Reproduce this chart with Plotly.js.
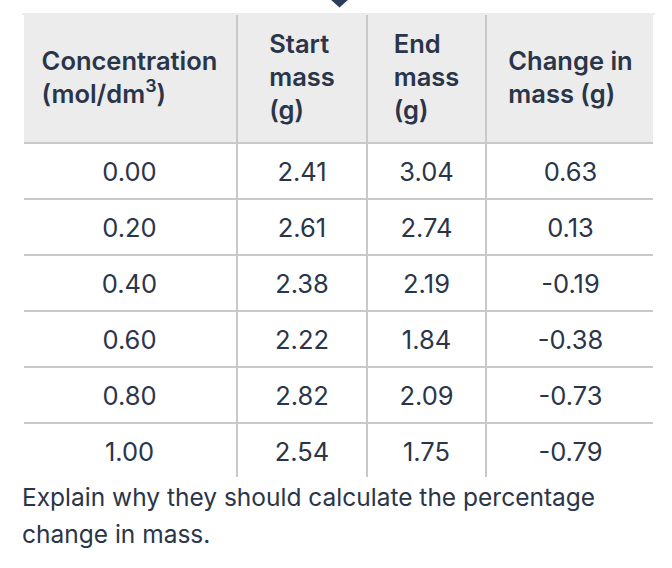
<!DOCTYPE html>
<html>
<head>
<meta charset="utf-8">
<script src="https://cdn.plot.ly/plotly-3.0.1.min.js"></script>
<style>
  html, body { margin: 0; padding: 0; background: #fff; }
  #chart { width: 672px; height: 568px; }
</style>
</head>
<body>
<div id="chart"></div>
<script>
// table data
const headers = ['Concentration<br>(mol/dm<sup>3</sup>)', 'Start<br>mass<br>(g)', 'End<br>mass<br>(g)', 'Change in<br>mass (g)'];
const concentration = ['0.00', '0.20', '0.40', '0.60', '0.80', '1.00'];
const startMass = ['2.41', '2.61', '2.38', '2.22', '2.82', '2.54'];
const endMass = ['3.04', '2.74', '2.19', '1.84', '2.09', '1.75'];
const changeMass = ['0.63', '0.13', '-0.19', '-0.38', '-0.73', '-0.79'];
const question = ['Explain why they should calculate the percentage', 'change in mass.'];

const ink = '#2b3549';
const grid = '#c9c9c9';
const font = 'Inter, "Noto Sans", sans-serif';
const colW = [215, 130, 119, 169];
const headerH = 129, rowH = 56;
const clear = 'rgba(0,0,0,0)';

const W = 633, H = 554;
const px = x => (x - 22) / W;
const py = y => 1 - (y - 14) / H;

const bold = h => h.split('<br>').map(s => '<span style="font-weight:600">' + s + '</span>').join('<br>');
const nLines = h => h.split('<br>').length;
const emptyCol = v => v.map(() => '');
const emptyCells = [emptyCol(concentration), emptyCol(startMass), emptyCol(endMass), emptyCol(changeMass)];

// grid + fills
const gridTable = {
  type: 'table',
  columnwidth: colW,
  domain: { x: [0, 1], y: [0, 1] },
  header: {
    values: headers.map(() => ''),
    height: headerH,
    fill: { color: '#ececec' },
    line: { color: grid, width: 2 }
  },
  cells: {
    values: emptyCells,
    height: rowH,
    fill: { color: '#ffffff' },
    line: { color: grid, width: 2 }
  }
};

// text layers: each one nudged down so the text sits in the middle of its cell
function textLayer(top, headerVals, cellVals) {
  return {
    type: 'table',
    columnwidth: colW,
    domain: { x: [0, 1], y: [0, py(top)] },
    header: {
      values: headerVals,
      align: 'center',
      height: headerH,
      fill: { color: clear },
      line: { width: 0 },
      font: { family: font, size: 25.5, color: ink }
    },
    cells: {
      values: cellVals,
      align: 'center',
      height: rowH,
      fill: { color: clear },
      line: { width: 0 },
      font: { family: font, size: 25.5, color: ink }
    }
  };
}

const cellText = textLayer(24.5, headers.map(() => ''), [concentration, startMass, endMass, changeMass]);
const header3 = textLayer(20, headers.map(h => nLines(h) === 3 ? bold(h) : ''), emptyCells);
const header2 = textLayer(37, headers.map(h => nLines(h) === 2 ? bold(h) : ''), emptyCells);

const layout = {
  width: 672,
  height: 568,
  margin: { t: 14, b: 0, l: 22, r: 17 },
  paper_bgcolor: '#ffffff',
  showlegend: false,
  shapes: [
    // hide outer borders of the table
    { type: 'line', xref: 'paper', yref: 'paper', x0: px(22), x1: px(22), y0: py(12), y1: py(480), line: { color: '#fff', width: 4 }, layer: 'above' },
    { type: 'line', xref: 'paper', yref: 'paper', x0: px(655), x1: px(655), y0: py(12), y1: py(480), line: { color: '#fff', width: 4 }, layer: 'above' },
    { type: 'line', xref: 'paper', yref: 'paper', x0: px(20), x1: px(660), y0: py(479), y1: py(479), line: { color: '#fff', width: 4 }, layer: 'above' },
    { type: 'line', xref: 'paper', yref: 'paper', x0: px(22), x1: px(655), y0: py(14), y1: py(14), line: { color: '#ececec', width: 2 }, layer: 'above' },
    // small marker at the top
    { type: 'path', xref: 'paper', yref: 'paper', layer: 'above',
      path: 'M ' + px(330) + ' ' + py(-1) + ' L ' + px(349) + ' ' + py(-1) + ' L ' + px(339.5) + ' ' + py(7.5) + ' Z',
      fillcolor: '#2b3d5a', line: { width: 0 } }
  ],
  annotations: question.map((t, i) => ({
    text: t, xref: 'paper', yref: 'paper', x: px(20), y: py(497 + i * 37),
    xanchor: 'left', yanchor: 'middle', showarrow: false,
    font: { family: font, size: 24.5, color: ink }
  }))
};

Plotly.newPlot('chart', [gridTable, cellText, header3, header2], layout, { displayModeBar: false, staticPlot: true });
</script>
</body>
</html>
